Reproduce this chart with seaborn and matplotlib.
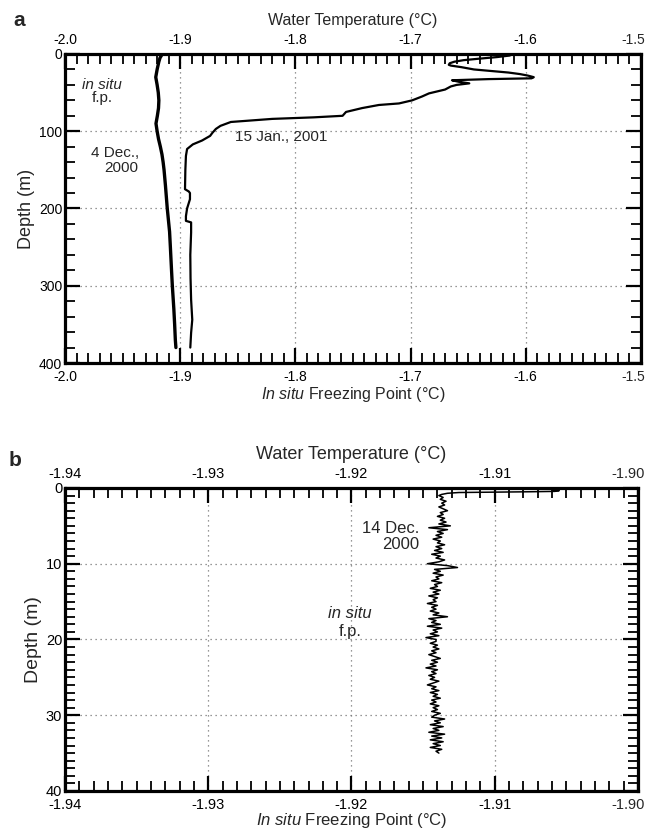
import numpy as np
import pandas as pd
import matplotlib
matplotlib.use("Agg")
import matplotlib.pyplot as plt
from matplotlib.ticker import MultipleLocator, FormatStrFormatter, FuncFormatter
import seaborn as sns

# ---------------- data ----------------
# Panel a: 4 Dec 2000 in situ freezing point profile
dec4_depth = [0, 5, 10, 20, 30, 40, 50, 60, 70, 80, 90, 100, 110, 120, 130, 140,
              150, 170, 200, 230, 250, 280, 300, 330, 350, 370, 380]
dec4_temp = [-1.9155, -1.9175, -1.9185, -1.9200, -1.9212, -1.9200, -1.9190, -1.9185,
             -1.9188, -1.9198, -1.9210, -1.9200, -1.9188, -1.9172, -1.9158, -1.9148,
             -1.9140, -1.9128, -1.9112, -1.9092, -1.9085, -1.9075, -1.9068, -1.9055,
             -1.9048, -1.9042, -1.9037]

# Panel a: 15 Jan 2001 water temperature profile
jan15_depth = [0, 2, 4, 6, 8, 10, 12, 14, 15, 17, 20, 22, 24, 26, 28, 30, 31.5, 32.5,
               34, 36, 38, 40, 42, 46, 51, 55, 60, 64, 66, 70, 75, 80, 82, 84, 88, 93,
               97, 102, 106, 112, 117, 123, 132, 150, 175, 178, 180, 188, 200, 210,
               216, 218, 231, 260, 290, 318, 344, 361, 380]
jan15_temp = [-1.6110, -1.6140, -1.6250, -1.6400, -1.6540, -1.6620, -1.6660, -1.6668,
              -1.6650, -1.6560, -1.6450, -1.6300, -1.6150, -1.6050, -1.5980, -1.5930,
              -1.5950, -1.6320, -1.6640, -1.6580, -1.6490, -1.6600, -1.6650, -1.6700,
              -1.6840, -1.6900, -1.6986, -1.7100, -1.7275, -1.7420, -1.7560, -1.7590,
              -1.7840, -1.8200, -1.8560, -1.8650, -1.8690, -1.8720, -1.8740, -1.8810,
              -1.8890, -1.8940, -1.8950, -1.8955, -1.8958, -1.8925, -1.8915, -1.8915,
              -1.8940, -1.8950, -1.8950, -1.8905, -1.8905, -1.8912, -1.8910, -1.8905,
              -1.8895, -1.8905, -1.8912]

# Panel b: 14 Dec 2000 in situ freezing point profile (upper 35 m)
dec14_depth = [0.25, 0.35, 0.45, 0.5, 0.55, 0.6, 0.7, 0.85,
               1.0, 1.25, 1.5, 1.75, 2.0, 2.25, 2.5, 2.75, 3.0, 3.25, 3.5, 3.75,
               4.0, 4.25, 4.5, 4.75, 5.0,
               5.25, 5.5, 5.75, 6.0, 6.25, 6.5, 6.75, 7.0, 7.25, 7.5, 7.75, 8.0,
               8.25, 8.5, 8.75, 9.0, 9.25, 9.5, 9.75, 10.0,
               10.25, 10.5, 10.75, 11.0, 11.25, 11.5, 11.75, 12.0, 12.25, 12.5,
               12.75, 13.0, 13.25, 13.5, 13.75, 14.0, 14.25, 14.5, 14.75, 15.0,
               15.25, 15.5, 15.75, 16.0, 16.25, 16.5, 16.75, 17.0, 17.25, 17.5,
               17.75, 18.0, 18.25, 18.5, 18.75, 19.0, 19.25, 19.5, 19.75, 20.0,
               20.25, 20.5, 20.75, 21.0, 21.25, 21.5, 21.75, 22.0, 22.25, 22.5,
               22.75, 23.0, 23.25, 23.5, 23.75, 24.0, 24.25, 24.5, 24.75, 25.0,
               25.25, 25.5, 25.75, 26.0, 26.25, 26.5, 26.75, 27.0, 27.25, 27.5,
               27.75, 28.0, 28.25, 28.5, 28.75, 29.0, 29.25, 29.5, 29.75, 30.0,
               30.25, 30.5, 30.75, 31.0, 31.25, 31.5, 31.75, 32.0, 32.25, 32.5,
               32.75, 33.0, 33.25, 33.5, 33.75, 34.0, 34.25, 34.5, 34.75, 35.0]
dec14_temp = [-1.9060, -1.9055, -1.9058, -1.9075, -1.9100, -1.9125, -1.9133, -1.9137,
              -1.9139, -1.9136, -1.9138, -1.9134, -1.9137, -1.9135, -1.9139, -1.9136,
              -1.9133, -1.9138, -1.9136, -1.9140, -1.9135, -1.9138, -1.9134, -1.9139,
              -1.9131,
              -1.9146, -1.9133, -1.9140, -1.9136, -1.9141, -1.9137, -1.9143, -1.9138,
              -1.9140, -1.9135, -1.9141, -1.9137, -1.9142, -1.9136, -1.9144, -1.9138,
              -1.9141, -1.9135, -1.9139, -1.9147,
              -1.9133, -1.9126, -1.9142, -1.9138, -1.9143, -1.9136, -1.9141, -1.9139,
              -1.9144, -1.9137, -1.9142, -1.9140, -1.9145, -1.9138, -1.9143, -1.9139,
              -1.9146, -1.9140, -1.9143, -1.9141,
              -1.9147, -1.9140, -1.9144, -1.9141, -1.9145, -1.9139, -1.9143, -1.9133,
              -1.9146, -1.9141, -1.9144, -1.9138, -1.9147, -1.9137, -1.9143, -1.9140,
              -1.9145, -1.9139, -1.9148, -1.9141,
              -1.9141, -1.9145, -1.9140, -1.9143, -1.9139, -1.9144, -1.9141, -1.9146,
              -1.9142, -1.9138, -1.9144, -1.9140, -1.9145, -1.9141, -1.9148, -1.9140,
              -1.9144, -1.9141, -1.9146, -1.9142,
              -1.9145, -1.9139, -1.9143, -1.9147, -1.9141, -1.9144, -1.9139, -1.9145,
              -1.9140, -1.9143, -1.9138, -1.9144, -1.9141, -1.9145, -1.9139, -1.9143,
              -1.9140, -1.9144, -1.9138, -1.9142,
              -1.9144, -1.9135, -1.9142, -1.9138, -1.9145, -1.9136, -1.9143, -1.9139,
              -1.9146, -1.9135, -1.9144, -1.9137, -1.9145, -1.9136, -1.9143, -1.9138,
              -1.9145, -1.9137, -1.9141, -1.9139]

top_label = "Water Temperature (°C)"
bottom_label = r"$\mathit{In\ situ}$ Freezing Point (°C)"
depth_label = "Depth (m)"

# ---------------- style ----------------
sns.set_style("ticks")
FAM = ["Liberation Sans", "DejaVu Sans"]
plt.rcParams["font.family"] = FAM
plt.rcParams["mathtext.fontset"] = "custom"
plt.rcParams["mathtext.it"] = "Liberation Sans:italic"
plt.rcParams["mathtext.rm"] = "Liberation Sans"
plt.rcParams["mathtext.sf"] = "Liberation Sans"

fig = plt.figure(figsize=(6.46, 8.32), dpi=100)
ax_a = fig.add_axes([0.1006, 0.5637, 0.8915, 0.3714])
ax_b = fig.add_axes([0.1006, 0.0493, 0.8870, 0.3642])


def style_axes(ax, xmaj, xmin, ymaj, ymin, xfmt, tsize, lsize, ysize, xmax, dx_pt,
               bpad=5, xlpad=1, tsz=None):
    ax.xaxis.set_major_locator(MultipleLocator(xmaj))
    ax.xaxis.set_minor_locator(MultipleLocator(xmin))
    ax.yaxis.set_major_locator(MultipleLocator(ymaj))
    ax.yaxis.set_minor_locator(MultipleLocator(ymin))
    # last (right-edge) label is drawn separately so it stays inside the figure
    ax.xaxis.set_major_formatter(
        FuncFormatter(lambda v, p: "" if abs(v - xmax) < xmaj * 1e-3 else xfmt % v))
    ax.yaxis.set_major_formatter(FormatStrFormatter("%d"))
    ax.tick_params(which="both", direction="in", top=True, right=True,
                   labeltop=True, labelbottom=True, colors="black")
    ax.tick_params(which="major", length=11, width=1.6, labelsize=tsize)
    ax.tick_params(axis="x", which="major", pad=bpad, labeltop=True)
    ax.tick_params(axis="y", which="major", pad=2)
    ax.tick_params(which="minor", length=7, width=1.3)
    for s in ax.spines.values():
        s.set_linewidth(2.3)
        s.set_color("black")
    ax.grid(which="major", linestyle=(0, (1, 3)), color="#777777", linewidth=0.9)
    ax.set_ylabel(depth_label, fontsize=ysize, labelpad=3)
    ax.set_xlabel(bottom_label, fontsize=lsize, labelpad=xlpad)
    ax.set_title(top_label, fontsize=tsz if tsz else lsize, pad=21)
    edge_txt = xfmt % xmax
    ax.annotate(edge_txt, xy=(1, 1), xycoords="axes fraction", xytext=(dx_pt, bpad),
                textcoords="offset points", ha="right", va="bottom", fontsize=tsize)
    ax.annotate(edge_txt, xy=(1, 0), xycoords="axes fraction", xytext=(dx_pt, -bpad),
                textcoords="offset points", ha="right", va="top", fontsize=tsize)


# ---------------- panel a ----------------
df_dec4 = pd.DataFrame({"temp": dec4_temp, "depth": dec4_depth})
df_jan15 = pd.DataFrame({"temp": jan15_temp, "depth": jan15_depth})
sns.lineplot(data=df_dec4, x="temp", y="depth", sort=False, estimator=None,
             color="black", linewidth=2.4, ax=ax_a)
sns.lineplot(data=df_jan15, x="temp", y="depth", sort=False, estimator=None,
             color="black", linewidth=1.6, ax=ax_a)
ax_a.set_xlim(-2.0, -1.5)
ax_a.set_ylim(400, 0)
style_axes(ax_a, 0.1, 0.01, 100, 20, "%.1f", 10, 11.5, 13, -1.5, 3.0)
ax_a.text(-1.968, 40, "in situ", style="italic", ha="center", va="center", fontsize=11)
ax_a.text(-1.968, 57, "f.p.", ha="center", va="center", fontsize=11)
ax_a.text(-1.936, 128, "4 Dec.,", ha="right", va="center", fontsize=11)
ax_a.text(-1.936, 147, "2000", ha="right", va="center", fontsize=11)
ax_a.text(-1.852, 107, "15 Jan., 2001", ha="left", va="center", fontsize=11)

# ---------------- panel b ----------------
df_dec14 = pd.DataFrame({"temp": dec14_temp, "depth": dec14_depth})
sns.lineplot(data=df_dec14, x="temp", y="depth", sort=False, estimator=None,
             color="black", linewidth=1.1, ax=ax_b)
ax_b.set_xlim(-1.94, -1.90)
ax_b.set_ylim(40, 0)
style_axes(ax_b, 0.01, 0.001, 10, 1, "%.2f", 10.5, 12, 14, -1.90, 5.0,
           bpad=5, xlpad=-1, tsz=13)
ax_b.text(-1.9153, 5.3, "14 Dec.", ha="right", va="center", fontsize=12)
ax_b.text(-1.9153, 7.5, "2000", ha="right", va="center", fontsize=12)
ax_b.text(-1.9201, 16.6, "in situ", style="italic", ha="center", va="center", fontsize=12)
ax_b.text(-1.9201, 18.9, "f.p.", ha="center", va="center", fontsize=12)

fig.text(0.030, 0.975, "a", fontsize=15, fontweight="bold", ha="center", va="center")
fig.text(0.023, 0.446, "b", fontsize=15, fontweight="bold", ha="center", va="center")

fig.savefig("out.png", dpi=100)
